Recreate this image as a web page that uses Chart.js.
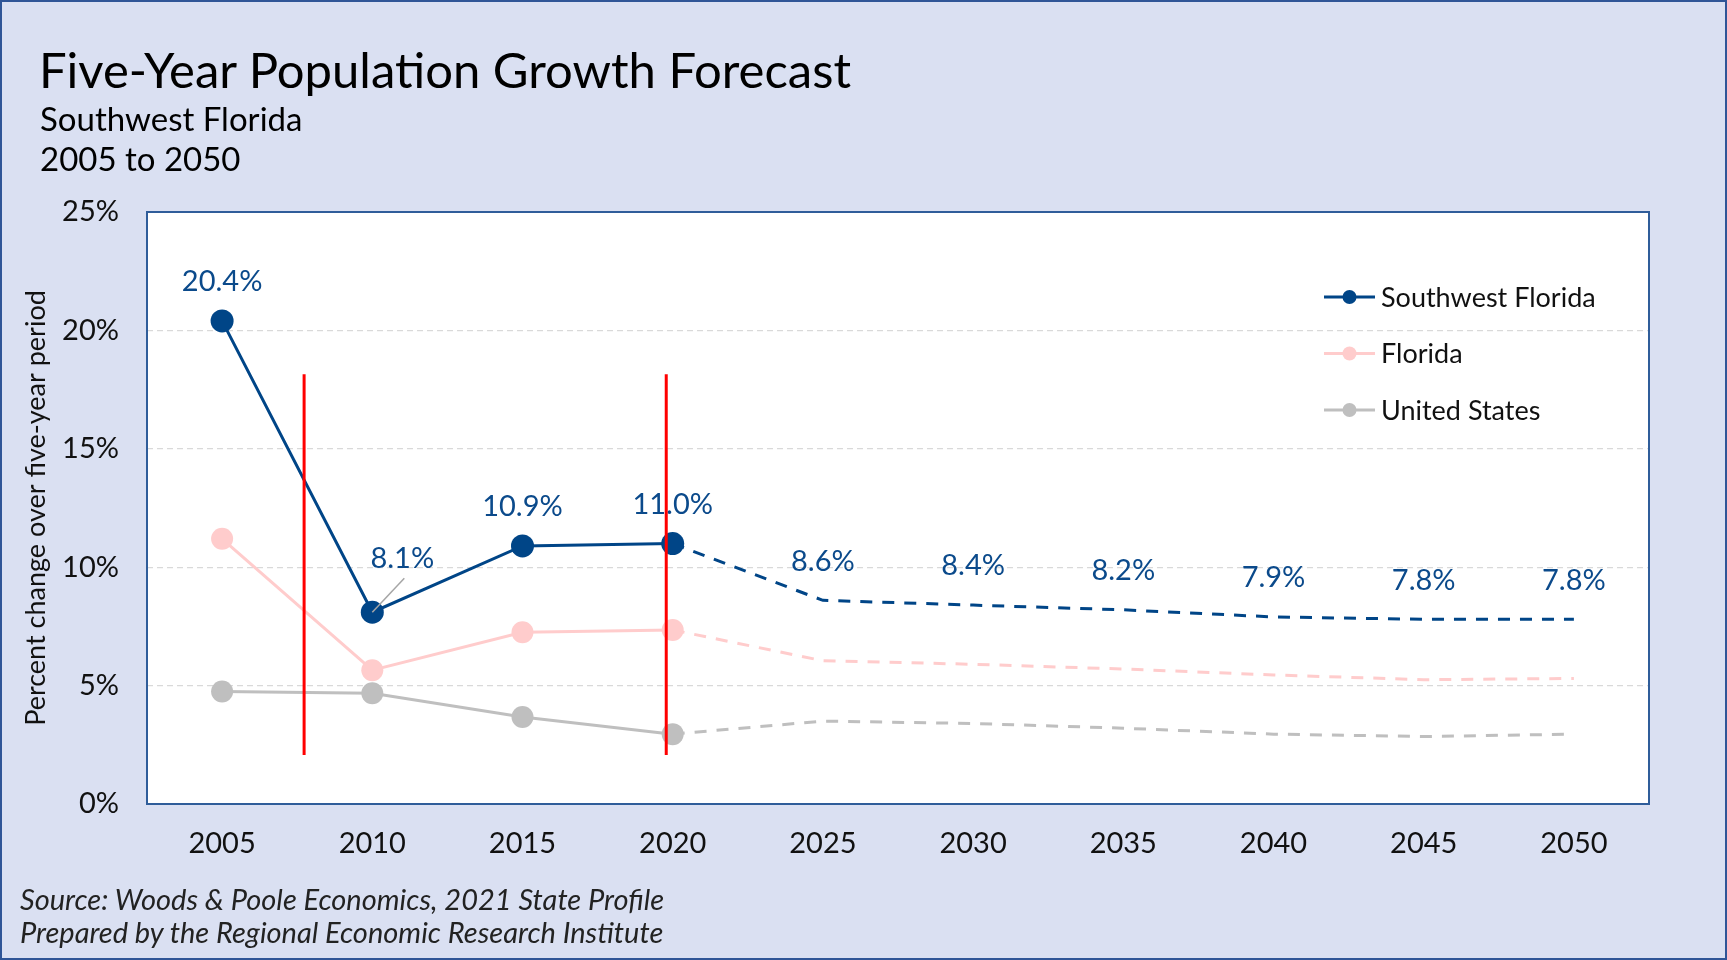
<!DOCTYPE html>
<html>
<head>
<meta charset="utf-8">
<script src="https://cdn.jsdelivr.net/npm/chart.js@4"></script>
<style>
  body { margin: 0; background: #DAE0F2; }
  #wrap { position: relative; width: 1727px; height: 960px; background: #DAE0F2; overflow: hidden; }
  #wrap canvas { position: absolute; left: 0; top: 0; }
  .txt { position: absolute; font-family: Lato, "Open Sans", sans-serif; color: #000; white-space: nowrap; }
  #title { left: 39px; top: 45px; font-size: 49px; line-height: 49px; }
  #sub { left: 40px; top: 98px; font-size: 33px; line-height: 40px; }
  #foot { left: 20px; top: 882px; font-size: 29px; line-height: 33px; font-style: italic; color: #222; }
  #frame { position: absolute; left: 0; top: 0; width: 1727px; height: 960px; box-sizing: border-box; border: 2px solid #2F5597; pointer-events: none; }
</style>
</head>
<body>
<div id="wrap">
  <canvas id="growthChart" width="1727" height="960"></canvas>
  <div class="txt" id="title">Five-Year Population Growth Forecast</div>
  <div class="txt" id="sub">Southwest Florida<br>2005 to 2050</div>
  <div class="txt" id="foot">Source: Woods &amp; Poole Economics, 2021 State Profile<br>Prepared by the Regional Economic Research Institute</div>
  <div id="frame"></div>
</div>
<script>
// Dados (variação % em cinco anos)
const years = ['2005', '2010', '2015', '2020', '2025', '2030', '2035', '2040', '2045', '2050'];
const swflValues = [20.4, 8.1, 10.9, 11.0, 8.6, 8.4, 8.2, 7.9, 7.8, 7.8];
const floridaValues = [11.2, 5.65, 7.25, 7.35, 6.05, 5.9, 5.7, 5.45, 5.25, 5.3];
const usValues = [4.75, 4.68, 3.67, 2.95, 3.5, 3.4, 3.2, 2.95, 2.85, 2.95];
const yTicks = [0, 5, 10, 15, 20, 25];
const lastActual = 3; // 2020 = último valor observado, depois é previsão

const FONT = 'Lato, "Open Sans", sans-serif';
const dashForecast = ctx => ctx.p0DataIndex >= lastActual ? [12, 10] : undefined;
const dotsOnActual = r => ctx => ctx.dataIndex <= lastActual ? r : 0;

function series(label, data, color, r) {
    return {
        label: label,
        data: data,
        borderColor: color,
        backgroundColor: color,
        borderWidth: 3,
        pointRadius: dotsOnActual(r),
        pointHoverRadius: dotsOnActual(r),
        pointBorderWidth: 0,
        pointBackgroundColor: color,
        tension: 0,
        fill: false,
        segment: { borderDash: dashForecast }
    };
}

// fundo branco + borda azul da área do gráfico
const plotFrame = {
    id: 'plotFrame',
    beforeDraw(chart) {
        const a = chart.chartArea, c = chart.ctx;
        c.save();
        c.fillStyle = '#ffffff';
        c.fillRect(a.left, a.top, a.right - a.left, a.bottom - a.top);
        c.restore();
    },
    afterDraw(chart) {
        const a = chart.chartArea, c = chart.ctx;
        c.save();
        c.strokeStyle = '#2F5D9A';
        c.lineWidth = 2;
        c.strokeRect(a.left, a.top, a.right - a.left, a.bottom - a.top);
        c.restore();
    }
};

// rótulos de valor só para o Sudoeste da Flórida
const valueLabels = {
    id: 'valueLabels',
    afterDatasetsDraw(chart) {
        const c = chart.ctx;
        const meta = chart.getDatasetMeta(0);
        c.save();
        c.font = '29px ' + FONT;
        c.fillStyle = '#0B4A8B';
        c.textAlign = 'center';
        c.textBaseline = 'middle';
        meta.data.forEach((pt, i) => {
            const txt = swflValues[i].toFixed(1) + '%';
            if (i === 1) {
                // rótulo deslocado com linha guia
                c.strokeStyle = '#A6A6A6';
                c.lineWidth = 1.5;
                c.beginPath();
                c.moveTo(pt.x, pt.y);
                c.lineTo(pt.x + 32, pt.y - 34);
                c.stroke();
                c.fillText(txt, pt.x + 30, pt.y - 54);
            } else {
                c.fillText(txt, pt.x, pt.y - 39);
            }
        });
        c.restore();
    }
};

// legenda desenhada à mão (linha + ponto)
const lineLegend = {
    id: 'lineLegend',
    afterDraw(chart) {
        const c = chart.ctx;
        const x0 = chart.chartArea.right - 325;
        c.save();
        c.font = '27px ' + FONT;
        c.textBaseline = 'middle';
        c.textAlign = 'left';
        chart.data.datasets.forEach((ds, i) => {
            const y = chart.chartArea.top + 85 + i * 56.5;
            c.strokeStyle = ds.borderColor;
            c.lineWidth = 3;
            c.beginPath();
            c.moveTo(x0, y);
            c.lineTo(x0 + 51, y);
            c.stroke();
            c.fillStyle = ds.borderColor;
            c.beginPath();
            c.arc(x0 + 25.5, y, 7, 0, Math.PI * 2);
            c.fill();
            c.fillStyle = '#111';
            c.fillText(ds.label, x0 + 57, y + 1);
        });
        c.restore();
    }
};

// linhas vermelhas verticais (marcações)
const redMarks = [
    { at: 0.546, from: 2.07, to: 18.15 },
    { at: 2.957, from: 2.07, to: 18.15 }
];
const redLines = {
    id: 'redLines',
    afterDraw(chart) {
        const c = chart.ctx, x = chart.scales.x, y = chart.scales.y;
        c.save();
        c.strokeStyle = '#FF0000';
        c.lineWidth = 3;
        redMarks.forEach(m => {
            const px = x.getPixelForValue(m.at);
            c.beginPath();
            c.moveTo(px, y.getPixelForValue(m.from));
            c.lineTo(px, y.getPixelForValue(m.to));
            c.stroke();
        });
        c.restore();
    }
};

const ctx = document.getElementById('growthChart').getContext('2d');
const growthChart = new Chart(ctx, {
    type: 'line',
    data: {
        labels: years,
        datasets: [
            series('Southwest Florida', swflValues, '#004587', 11.5),
            series('Florida', floridaValues, '#FFCCCC', 11),
            series('United States', usValues, '#BFBFBF', 11)
        ]
    },
    options: {
        responsive: false,
        animation: false,
        events: [],
        layout: { padding: { top: 212, right: 78, bottom: 0, left: 0 } },
        plugins: {
            legend: { display: false },
            tooltip: { enabled: false }
        },
        scales: {
            x: {
                offset: true,
                grid: { display: false, drawTicks: false },
                border: { display: false },
                ticks: { padding: 22, color: '#111', font: { family: FONT, size: 29 } },
                afterFit: s => { s.height = 156; }
            },
            y: {
                min: 0,
                max: 25,
                afterBuildTicks: s => { s.ticks = yTicks.map(v => ({ value: v })); },
                grid: {
                    color: ctx => (ctx.tick.value === 0 || ctx.tick.value === 25) ? 'rgba(0,0,0,0)' : '#D9D9D9',
                    lineWidth: 1.2,
                    drawTicks: false
                },
                border: { display: false, dash: [6, 4] },
                ticks: {
                    padding: 28,
                    color: '#111',
                    font: { family: FONT, size: 29 },
                    callback: v => v + '%'
                },
                title: {
                    display: true,
                    text: 'Percent change over five-year period',
                    color: '#111',
                    font: { family: FONT, size: 27 },
                    padding: { top: 20, bottom: 0 }
                },
                afterFit: s => { s.width = 147; }
            }
        }
    },
    plugins: [plotFrame, valueLabels, lineLegend, redLines]
});
</script>
</body>
</html>
